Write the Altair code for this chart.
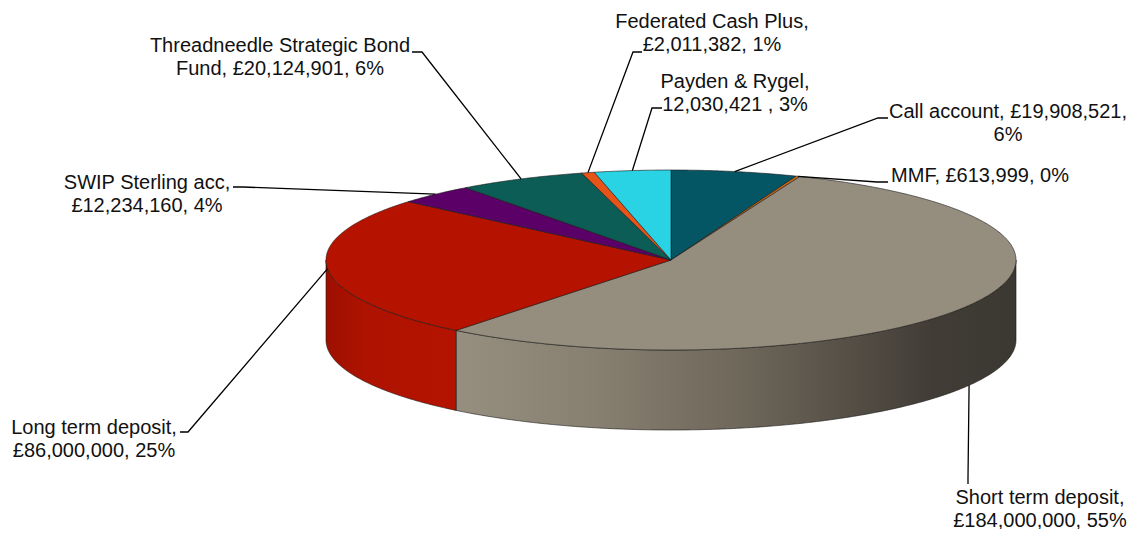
import math
import altair as alt
import pandas as pd

# ---------------- data ----------------
categories = ["Call account", "MMF", "Short term deposit", "Long term deposit",
              "SWIP Sterling acc", "Threadneedle Strategic Bond Fund",
              "Federated Cash Plus", "Payden & Rygel"]
values = [19908521, 613999, 184000000, 86000000, 12234160, 20124901, 2011382, 12030421]
label_lines = [
    ["Call account, £19,908,521,", "6%"],
    ["MMF, £613,999, 0%"],
    ["Short term deposit,", "£184,000,000, 55%"],
    ["Long term deposit,", "£86,000,000, 25%"],
    ["SWIP Sterling acc,", "£12,234,160, 4%"],
    ["Threadneedle Strategic Bond", "Fund, £20,124,901, 6%"],
    ["Federated Cash Plus,", "£2,011,382, 1%"],
    ["Payden & Rygel,", "12,030,421 , 3%"],
]

# ---------------- styles / layout ----------------
colors = ["#045664", "#D06A10", "#958E7E", "#B51300", "#5A0066", "#0B5D55", "#E85418", "#29D3E3"]
wall_gradients = {
    "Short term deposit": [("#968F7F", 0.0), ("#877F70", 0.25), ("#6F685B", 0.5),
                           ("#554F46", 0.7), ("#413D36", 0.85), ("#3B3832", 1.0)],
    "Long term deposit": [("#9E0F00", 0.0), ("#AE1200", 0.3), ("#B41300", 1.0)],
}
CX, CY, RX, RY, DEPTH = 671.0, 260.0, 345.0, 90.0, 80.0
# label centre x, first baseline y
label_pos = [(1008, 118), (980, 182), (1040, 504), (94, 434),
             (147, 189), (280, 52), (712, 28), (735, 88)]
# leader stub (start, end) near each label
leader_stub = [((888, 118), (878, 118)), ((888, 182), (877, 182)),
               ((968, 484), (968, 478)), ((180, 432), (188, 432)),
               ((233, 187), (243, 187)), ((412, 52), (422, 52)),
               ((642, 52), (633, 52)), ((662, 108), (652, 108))]
LINE_GAP = 22.5
FONT = "Liberation Sans"
FONT_SIZE = 20


def pt(theta, dy=0.0):
    t = math.radians(theta)
    return [CX + RX * math.sin(t), CY - RY * math.cos(t) + dy]


def arc(a0, a1, dy=0.0, step=0.5):
    n = max(2, int(abs(a1 - a0) / step) + 1)
    return [pt(a0 + (a1 - a0) * i / (n - 1), dy) for i in range(n)]


total = float(sum(values))
starts, ends = [], []
acc = 0.0
for v in values:
    starts.append(acc / total * 360.0)
    acc += v
    ends.append(acc / total * 360.0)

proj = dict(type="identity", scale=1, translate=[-8, -8])

# ---------------- walls ----------------
layers = []
for name, col, a0, a1 in zip(categories, colors, starts, ends):
    a, b = max(a0, 90.0), min(a1, 270.0)
    if a < b:
        ring = arc(a, b) + arc(b, a, DEPTH)
        ring.append(ring[0])
        feat = [{"type": "Feature", "geometry": {"type": "Polygon", "coordinates": [ring]},
                 "properties": {"name": name}}]
        stops = wall_gradients.get(name, [(col, 0.0), (col, 1.0)])
        grad = alt.LinearGradient(gradient="linear", x1=0, x2=1, y1=0, y2=0,
                                  stops=[alt.GradientStop(color=c, offset=o) for c, o in stops])
        layers.append(
            alt.Chart(alt.Data(values=feat)).mark_geoshape(
                fill=grad, stroke="#1a1a1a", strokeWidth=0.6
            ).project(**proj)
        )

# ---------------- tops ----------------
top_feats = []
for name, col, a0, a1 in zip(categories, colors, starts, ends):
    ring = [[CX, CY]] + arc(a0, a1) + [[CX, CY]]
    top_feats.append({"type": "Feature", "geometry": {"type": "Polygon", "coordinates": [ring]},
                      "properties": {"name": name, "color": col}})
layers.append(
    alt.Chart(alt.Data(values=top_feats)).mark_geoshape(
        stroke="#1a1a1a", strokeWidth=0.6
    ).encode(fill=alt.Color("properties.color:N", scale=None)).project(**proj)
)

# ---------------- leader lines ----------------
lead_feats = []
for name, a0, a1, (s0, s1) in zip(categories, starts, ends, leader_stub):
    mid = (a0 + a1) / 2.0
    anchor = pt(mid, DEPTH if math.cos(math.radians(mid)) < -0.3 else 0.0)
    lead_feats.append({"type": "Feature",
                       "geometry": {"type": "LineString", "coordinates": [list(s0), list(s1), anchor]},
                       "properties": {"name": name}})
layers.append(
    alt.Chart(alt.Data(values=lead_feats)).mark_geoshape(
        filled=False, stroke="black", strokeWidth=1.3
    ).project(**proj)
)

# ---------------- labels ----------------
rows = []
for lines, (lx, ly) in zip(label_lines, label_pos):
    for i, ln in enumerate(lines):
        rows.append({"text": ln, "x": lx, "y": ly + i * LINE_GAP})
labels = pd.DataFrame(rows)
layers.append(
    alt.Chart(labels).mark_text(
        align="center", baseline="alphabetic", font=FONT, fontSize=FONT_SIZE, color="#111111"
    ).encode(longitude="x:Q", latitude="y:Q", text="text:N").project(**proj)
)

chart = alt.layer(*layers).properties(
    width=1121, height=521, padding=0, autosize=alt.AutoSizeParams(type="none"),
    background="white"
).configure_view(stroke=None)

chart.save("out.html", embed_options={"renderer": "svg", "actions": False})
